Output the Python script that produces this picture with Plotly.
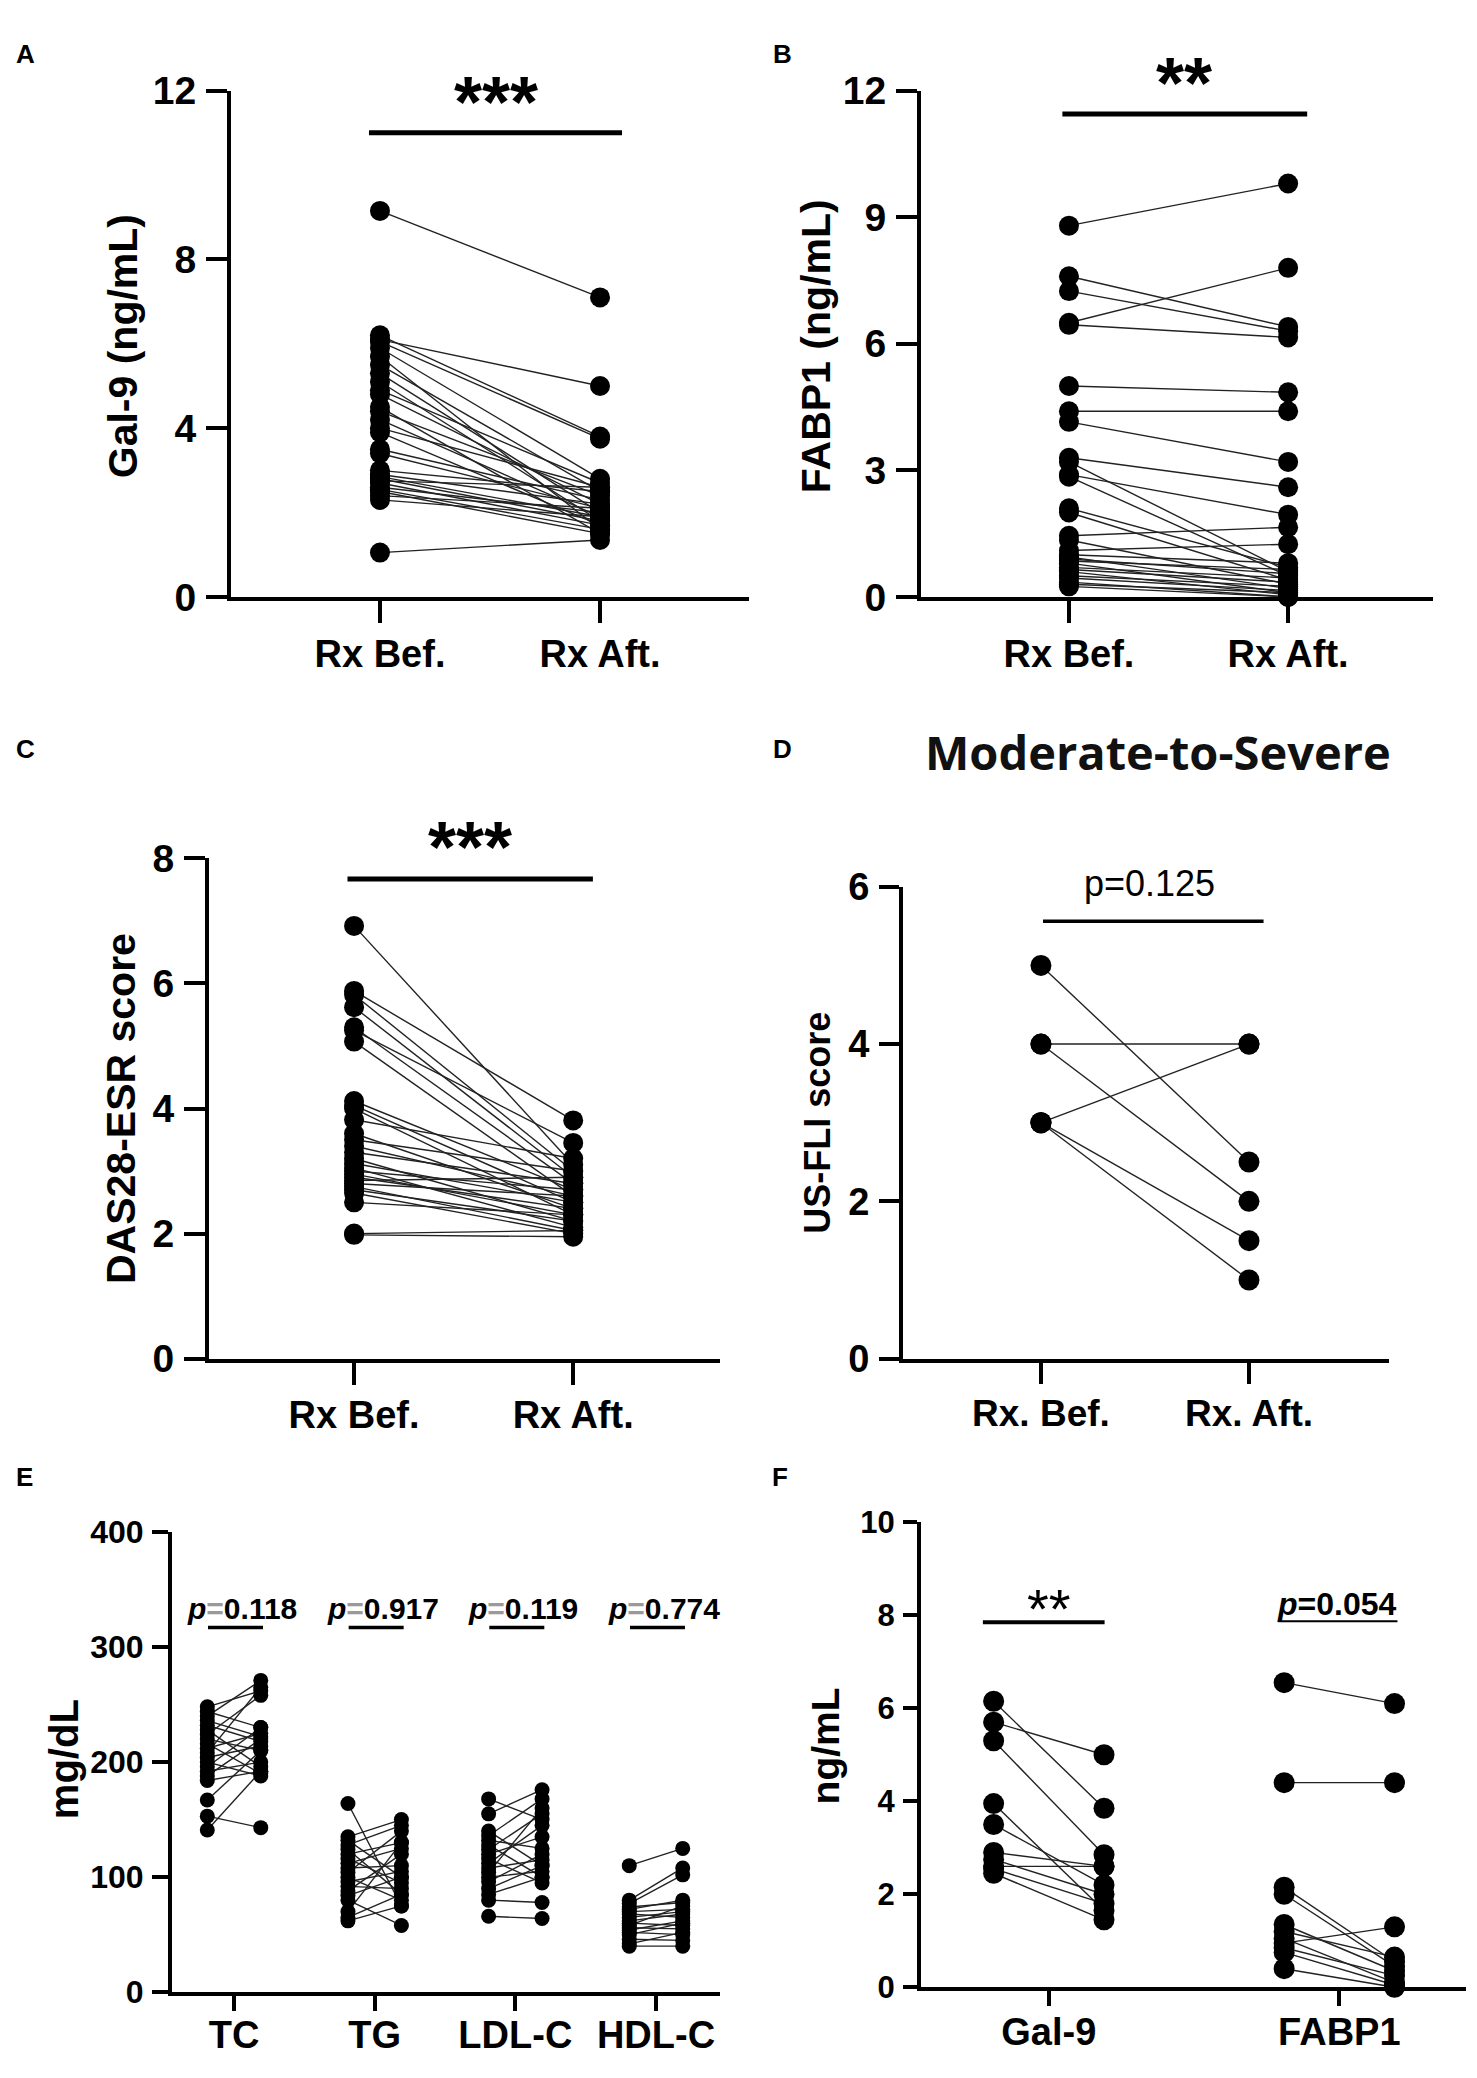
import plotly.graph_objects as go

# ---------------- data ----------------
pre_post_labels = ["Rx Bef.", "Rx Aft."]
pre_post_labels_d = ["Rx. Bef.", "Rx. Aft."]

gal9_before = [9.15, 6.2, 6.1, 6.05, 5.9, 5.7, 5.5, 5.3, 5.1, 4.9, 4.8, 4.5, 4.4, 4.2, 4.0,
               3.9, 3.5, 3.4, 3.0, 2.9, 2.85, 2.8, 2.75, 2.7, 2.6, 2.55, 2.5, 2.4, 2.3, 1.05]
gal9_after = [7.1, 3.8, 5.0, 3.75, 2.8, 1.6, 2.5, 2.0, 1.8, 2.7, 2.2, 1.5, 2.4, 1.9, 2.6,
              1.7, 2.3, 2.1, 2.5, 2.2, 1.9, 1.8, 2.6, 1.7, 2.0, 1.6, 1.5, 2.1, 1.9, 1.35]

fabp1_before = [8.8, 7.6, 7.25, 6.5, 6.45, 5.0, 4.4, 4.15, 3.3, 3.2, 2.9, 2.85, 2.1, 2.0, 1.45,
                1.35, 1.1, 1.0, 0.95, 0.9, 0.85, 0.8, 0.7, 0.65, 0.6, 0.5, 0.45, 0.35, 0.3, 0.25]
fabp1_after = [9.8, 6.4, 6.3, 7.8, 6.15, 4.85, 4.4, 3.2, 2.6, 0.6, 1.95, 0.5, 0.7, 0.4, 1.65,
               0.3, 1.25, 0.8, 0.2, 0.55, 0.65, 0.1, 0.45, 0.35, 0.05, 0.25, 0.15, 0.0, 0.1, 0.0]

das28_before = [6.92, 5.88, 5.82, 5.62, 5.3, 5.25, 5.07, 4.12, 4.05, 4.0, 3.82, 3.6, 3.5, 3.4, 3.3,
                3.2, 3.12, 3.05, 3.0, 2.95, 2.9, 2.85, 2.8, 2.75, 2.7, 2.65, 2.5, 2.0, 1.98]
das28_after = [3.1, 3.81, 3.0, 2.9, 2.8, 3.45, 2.6, 2.7, 2.5, 2.3, 3.2, 2.4, 3.0, 2.6, 2.8,
               2.2, 2.5, 2.1, 2.7, 2.3, 2.4, 2.9, 2.6, 2.05, 2.2, 2.0, 2.3, 2.05, 1.95]

us_fli_before = [5, 4, 4, 3, 3, 3]
us_fli_after = [2.5, 4, 2, 4, 1.5, 1]

lipid_labels = ["TC", "TG", "LDL-C", "HDL-C"]
lipid_p = ["0.118", "0.917", "0.119", "0.774"]
tc_before = [248, 244, 240, 236, 232, 228, 224, 220, 216, 212, 208, 204, 200, 196, 192, 188, 184, 167, 153, 141]
tc_after = [262, 230, 271, 222, 218, 196, 258, 210, 190, 225, 265, 214, 188, 230, 200, 220, 192, 210, 143, 192]
tg_before = [164, 135, 132, 128, 124, 120, 116, 112, 108, 104, 100, 96, 92, 88, 84, 80, 70, 65, 62]
tg_after = [75, 150, 100, 145, 85, 130, 95, 125, 110, 140, 80, 105, 90, 120, 100, 58, 130, 85, 75]
ldl_before = [168, 155, 140, 136, 132, 128, 124, 120, 116, 112, 108, 104, 100, 96, 90, 85, 80, 66]
ldl_after = [150, 176, 110, 168, 125, 100, 155, 135, 95, 145, 115, 160, 105, 120, 110, 100, 78, 64]
hdl_before = [110, 80, 77, 74, 72, 70, 68, 65, 62, 60, 58, 56, 54, 52, 50, 46, 42, 40]
hdl_after = [125, 108, 102, 78, 80, 72, 65, 70, 68, 58, 75, 55, 62, 50, 60, 45, 52, 40]

sub_labels = ["Gal-9", "FABP1"]
sub_gal9_before = [6.15, 5.7, 5.3, 3.95, 3.5, 2.9, 2.75, 2.6, 2.55, 2.45]
sub_gal9_after = [3.85, 5.0, 2.85, 1.65, 2.2, 2.6, 2.0, 2.6, 1.8, 1.45]
sub_fabp1_before = [6.55, 4.4, 2.15, 2.0, 1.35, 1.2, 1.05, 0.95, 0.85, 0.75, 0.4]
sub_fabp1_after = [6.1, 4.4, 0.55, 0.45, 0.35, 0.65, 0.1, 1.3, 0.25, 0.05, 0.0]

# ---------------- layout helpers ----------------
OFF = 8
FW, FH = 1477 - 2 * OFF, 2078 - 2 * OFF
FONT = "Liberation Sans, Arial, sans-serif"


def fx(p):
    return (p - OFF) / FW


def fy(p):
    return 1 - (p - OFF) / FH


fig = go.Figure()
LINE_C = "#222222"


def add_pairs(xb, xa, before, after, ax, msize):
    xs, ys = [], []
    for b, a in zip(before, after):
        xs += [xb, xa, None]
        ys += [b, a, None]
    fig.add_trace(go.Scatter(x=xs, y=ys, mode="lines", line=dict(color=LINE_C, width=1.4),
                             xaxis="x" + ax, yaxis="y" + ax, hoverinfo="skip",
                             showlegend=False, cliponaxis=False))
    fig.add_trace(go.Scatter(x=[xb] * len(before) + [xa] * len(after), y=list(before) + list(after),
                             mode="markers", marker=dict(color="black", size=msize, line=dict(width=0)),
                             xaxis="x" + ax, yaxis="y" + ax, hoverinfo="skip",
                             showlegend=False, cliponaxis=False))


add_pairs(0, 1, gal9_before, gal9_after, "", 20)
add_pairs(0, 1, fabp1_before, fabp1_after, "2", 20)
add_pairs(0, 1, das28_before, das28_after, "3", 20)
add_pairs(0, 1, us_fli_before, us_fli_after, "4", 21)
for i, (b, a) in enumerate([(tc_before, tc_after), (tg_before, tg_after),
                            (ldl_before, ldl_after), (hdl_before, hdl_after)]):
    add_pairs(i - 0.19, i + 0.19, b, a, "5", 15)
for i, (b, a) in enumerate([(sub_gal9_before, sub_gal9_after), (sub_fabp1_before, sub_fabp1_after)]):
    add_pairs(i - 0.19, i + 0.19, b, a, "6", 21)


def xax(x0, x1, rng, tickvals, ticktext, anchor, fsize, ticklen, standoff):
    return dict(domain=[fx(x0), fx(x1)], range=rng, tickvals=tickvals, ticktext=ticktext,
                showline=True, linewidth=4, linecolor="black", ticks="outside", ticklen=ticklen,
                tickwidth=4, tickcolor="black", showgrid=False, zeroline=False, anchor=anchor,
                tickfont=dict(family=FONT, size=fsize, color="black", weight="bold"),
                ticklabelstandoff=standoff, fixedrange=True)


def yax(y0, y1, rng, dtick, anchor, fsize, ticklen):
    return dict(domain=[fy(y0), fy(y1)], range=rng, tick0=0, dtick=dtick,
                showline=True, linewidth=4, linecolor="black", ticks="outside", ticklen=ticklen,
                tickwidth=4, tickcolor="black", showgrid=False, zeroline=False, anchor=anchor,
                tickfont=dict(family=FONT, size=fsize, color="black", weight="bold"),
                ticklabelstandoff=2, fixedrange=True)


layout = dict(
    width=FW, height=FH, margin=dict(l=0, r=0, t=0, b=0),
    paper_bgcolor="white", plot_bgcolor="white", showlegend=False,
    xaxis=xax(231, 749, [-0.677, 1.677], [0, 1], pre_post_labels, "y", 38, 22, -2),
    yaxis=yax(588, 71, [0, 12], 4, "x", 39, 21),
    xaxis2=xax(921, 1433, [-0.675, 1.661], [0, 1], pre_post_labels, "y2", 38, 22, -2),
    yaxis2=yax(588, 71, [0, 12], 3, "x2", 39, 21),
    xaxis3=xax(209, 720, [-0.662, 1.670], [0, 1], pre_post_labels, "y3", 38, 22, -2),
    yaxis3=yax(1366, 855, [0, 8], 2, "x3", 39, 21),
    xaxis4=xax(903, 1389, [-0.663, 1.673], [0, 1], pre_post_labels_d, "y4", 37, 21, -2),
    yaxis4=yax(1366, 884, [0, 6], 2, "x4", 38, 20),
    xaxis5=xax(172, 720, [-0.441, 3.455], [0, 1, 2, 3], lipid_labels, "y5", 38, 15, -9),
    yaxis5=yax(2013, 1543, [0, 400], 100, "x5", 32, 16),
    xaxis6=xax(921, 1466, [-0.44, 1.436], [0, 1], sub_labels, "y6", 38, 15, -7),
    yaxis6=yax(2008, 1533, [0, 10], 2, "x6", 31, 14),
)
fig.update_layout(**layout)

shapes = []
annotations = []


def bracket(ax, x0, x1, y, w):
    shapes.append(dict(type="line", xref="x" + ax, yref="y" + ax, x0=x0, x1=x1, y0=y, y1=y,
                       line=dict(color="black", width=w)))


def label(ax, x, y, shift, text, size, bold=True):
    annotations.append(dict(xref="x" + ax, yref="y" + ax, x=x, y=y, yshift=shift, text=text,
                            showarrow=False, xanchor="center", yanchor="middle",
                            font=dict(family=FONT, size=size, color="black",
                                      weight="bold" if bold else "normal")))


# significance brackets and labels (label sits a fixed pixel gap above its bracket)
bracket("", -0.05, 1.1, 11.0, 5)
label("", 0.527, 11.0, 31, "***", 72)
bracket("2", -0.03, 1.087, 11.45, 5)
label("2", 0.525, 11.45, 31, "**", 72)
bracket("3", -0.03, 1.09, 7.67, 5)
label("3", 0.53, 7.67, 32, "***", 72)
bracket("4", 0.01, 1.07, 5.56, 3.5)
label("4", 0.52, 5.56, 38, "p=0.125", 36, bold=False)
for i, p in enumerate(lipid_p):
    bracket("5", i - 0.185, i + 0.206, 317, 3.5)
    label("5", i + 0.057, 317, 19,
          "<i>p</i><span style='color:#9a9a9a'>=</span>" + p, 30)
bracket("6", -0.227, 0.192, 7.85, 4)
label("6", 0.0, 7.85, 14, "**", 56, bold=False)
bracket("6", 0.79, 1.2, 7.87, 2)
label("6", 0.993, 7.87, 17, "<i>p</i>=0.054", 32)


# axis titles
def ytitle(x, y, text, size):
    annotations.append(dict(xref="paper", yref="paper", x=fx(x), y=fy(y), text=text, showarrow=False,
                            textangle=-90, xanchor="center", yanchor="middle",
                            font=dict(family=FONT, size=size, color="black", weight="bold")))


ytitle(123, 332, "Gal-9 (ng/mL)", 41)
ytitle(816, 332, "FABP1 (ng/mL)", 41)
ytitle(121, 1111, "DAS28-ESR score", 41)
ytitle(818, 1125, "US-FLI score", 36)
ytitle(64, 1775, "mg/dL", 40)
ytitle(825, 1762, "ng/mL", 39)

# panel D title
annotations.append(dict(xref="paper", yref="paper", x=fx(1158), y=fy(746), text="Moderate-to-Severe",
                        showarrow=False, xanchor="center", yanchor="middle",
                        font=dict(family="Open Sans, sans-serif", size=47, color="#111111", weight=700)))

# panel letters
for letter, (x, y) in zip("ABCDEF", [(25, 34), (782, 34), (25, 743), (782, 743), (24, 1487), (780, 1487)]):
    annotations.append(dict(xref="paper", yref="paper", x=fx(x), y=fy(y), text=letter, showarrow=False,
                            xanchor="center", yanchor="middle",
                            font=dict(family=FONT, size=26, color="black", weight="bold")))

fig.update_layout(shapes=shapes, annotations=annotations)
fig.write_html("out.html")
